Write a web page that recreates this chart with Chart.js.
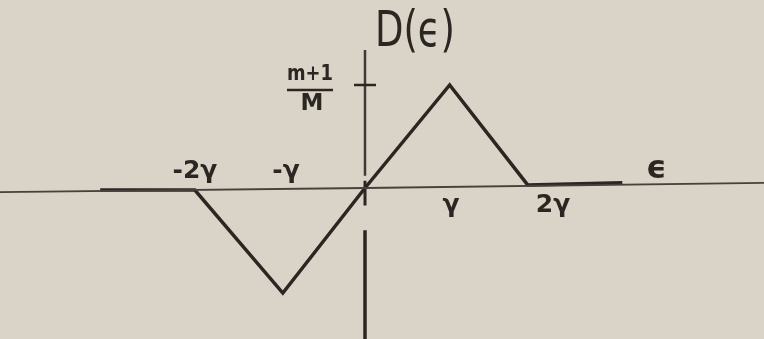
<!DOCTYPE html>
<html>
<head>
<meta charset="utf-8">
<script src="https://cdn.jsdelivr.net/npm/chart.js@4/dist/chart.umd.min.js"></script>
<style>
  html, body { margin: 0; padding: 0; background: #dad4c8; }
  #wrap { width: 764px; height: 339px; }
</style>
</head>
<body>
<div id="wrap"><canvas id="densityChart" width="764" height="339"></canvas></div>
<script>
// D(ε) in units of (m+1)/M, ε in units of γ
const epsilon = [-3.19, -2.05, -0.99, 0, 1.02, 1.96, 3.10];
const density = [-0.02, -0.02, -1.02, 0, 1.0, 0.03, 0.05];

// horizontal ε axis
const axisEps = [-4.40, 0, 4.81];
const axisD = [-0.04, 0, 0.05];

// vertical D axis, drawn in three strokes
const vAxisUpper = [1.34, 0.12];
const vAxisMid = [0.07, -0.17];
const vAxisLower = [-0.41, -1.47];

const tickValues = [-2, -1, 1, 2];
const tickLabels = ['-2γ', '-γ', 'γ', '2γ'];
const peakValue = 1;
const peakLabel = ['m+1', 'M'];
const xTitle = 'ϵ';
const yTitle = 'D(ϵ)';

const ink = '#2b2622';

function pts(xs, ys) {
  return xs.map((x, i) => ({ x: x, y: ys[i] }));
}
function vSeg(ys) {
  return ys.map(y => ({ x: 0, y: y }));
}

// draws text centred at (cx, cy), squeezed horizontally if wider than maxW
function drawText(ctx, text, cx, cy, size, maxW, weight) {
  ctx.save();
  ctx.font = (weight || 'normal') + ' ' + size + 'px "DejaVu Sans"';
  ctx.textAlign = 'center';
  ctx.textBaseline = 'middle';
  const w = ctx.measureText(text).width;
  const k = maxW && w > maxW ? maxW / w : 1;
  ctx.translate(cx, cy);
  ctx.scale(k, 1);
  ctx.fillText(text, 0, 0);
  ctx.restore();
}

const sketchLabels = {
  id: 'sketchLabels',
  afterDatasetsDraw(chart) {
    const ctx = chart.ctx;
    const xs = chart.scales.x;
    const ys = chart.scales.y;
    const x0 = xs.getPixelForValue(0);
    const y0 = ys.getPixelForValue(0);
    ctx.fillStyle = ink;
    ctx.strokeStyle = ink;

    // ticks: negative ones above the axis, positive ones below
    tickValues.forEach((v, i) => {
      const px = xs.getPixelForValue(v);
      if (v < 0) {
        drawText(ctx, tickLabels[i], px + (v === -2 ? -4 : 4), y0 - 16, 25, v === -2 ? 48 : 40, 'bold');
      } else {
        drawText(ctx, tickLabels[i], px + (v === 2 ? 22 : 3), y0 + 18, 25, v === 2 ? 40 : 22, 'bold');
      }
    });

    // tick mark and fraction for the peak value
    const py = ys.getPixelForValue(peakValue);
    ctx.lineWidth = 2.5;
    ctx.beginPath();
    ctx.moveTo(x0 - 11, py);
    ctx.lineTo(x0 + 11, py);
    ctx.stroke();

    drawText(ctx, peakLabel[0], x0 - 55, py - 10, 21, 46, 'bold');
    ctx.lineWidth = 2.5;
    ctx.beginPath();
    ctx.moveTo(x0 - 78, py + 5);
    ctx.lineTo(x0 - 32, py + 5);
    ctx.stroke();
    drawText(ctx, peakLabel[1], x0 - 53, py + 19, 23, 26, 'bold');

    // axis titles
    drawText(ctx, yTitle, x0 + 50, 33, 50, 80);
    drawText(ctx, xTitle, xs.getPixelForValue(3.51), y0 - 18, 32, 24, 'bold');
  }
};

new Chart(document.getElementById('densityChart'), {
  type: 'scatter',
  data: {
    datasets: [
      { data: pts(axisEps, axisD), borderColor: '#46413b', borderWidth: 1.8 },
      { data: vSeg(vAxisUpper), borderColor: '#3f3a34', borderWidth: 2.5 },
      { data: vSeg(vAxisMid), borderColor: ink, borderWidth: 3 },
      { data: vSeg(vAxisLower), borderColor: ink, borderWidth: 3.5 },
      { data: pts(epsilon, density), borderColor: ink, borderWidth: 3.5 }
    ].map(d => Object.assign(d, { showLine: true, pointRadius: 0, fill: false, borderJoinStyle: 'miter' }))
  },
  options: {
    responsive: false,
    animation: false,
    layout: { padding: 0 },
    plugins: { legend: { display: false }, tooltip: { enabled: false } },
    scales: {
      x: { type: 'linear', display: false, min: -4.3976, max: 4.8072 },
      y: { type: 'linear', display: false, min: -1.466, max: 1.8252 }
    }
  },
  plugins: [sketchLabels]
});
</script>
</body>
</html>
